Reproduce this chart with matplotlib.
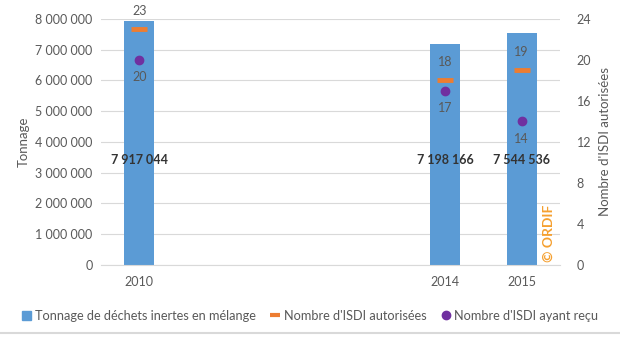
import matplotlib.pyplot as plt
from matplotlib.lines import Line2D
from matplotlib.patches import Patch

plt.rcParams['font.family'] = ['Lato', 'DejaVu Sans']

annees = [2010, 2014, 2015]
tonnage = [7917044, 7198166, 7544536]
isdi_autorisees = [23, 18, 19]
isdi_ayant_recu = [20, 17, 14]

bleu = '#5B9BD5'
orange = '#ED7D31'
violet = '#7030A0'
gris = '#595959'


def fmt(v):
    return f"{v:,}".replace(',', ' ')


fig = plt.figure(figsize=(6.2, 3.5), dpi=100)
ax = fig.add_axes([0.163, 0.243, 0.740, 0.703])
ax2 = ax.twinx()

ax.bar(annees, tonnage, width=0.39, color=bleu, zorder=2)
for x, t in zip(annees, tonnage):
    ax.text(x, 3.4e6, fmt(t), ha='center', va='center', fontsize=9,
            fontweight='bold', color='#333333', zorder=5)

ax.set_xlim(2009.5, 2015.5)
ax.set_ylim(0, 8e6)
ax.set_yticks(range(0, 8000001, 1000000))
ax.set_yticklabels([fmt(v) for v in range(0, 8000001, 1000000)])
ax.set_xticks(annees)
ax.grid(axis='y', color='#D9D9D9', linewidth=0.8, zorder=0)
ax.set_axisbelow(True)
ax.set_ylabel('Tonnage', color=gris, fontsize=9.5)

ax2.plot(annees, isdi_autorisees, linestyle='none', marker='_', markersize=11,
         markeredgewidth=3.5, color=orange, zorder=4)
ax2.plot(annees, isdi_ayant_recu, linestyle='none', marker='o', markersize=6,
         color=violet, zorder=4)
for x, a, r in zip(annees, isdi_autorisees, isdi_ayant_recu):
    ax2.annotate(str(a), (x, a), xytext=(0, 9), textcoords='offset points',
                 ha='center', va='bottom', fontsize=9, color=gris)
    ax2.annotate(str(r), (x, r), xytext=(0, -8), textcoords='offset points',
                 ha='center', va='top', fontsize=9, color=gris)
ax2.set_ylim(0, 24)
ax2.set_yticks(range(0, 25, 4))
ax2.set_ylabel("Nombre d'ISDI autorisées", color=gris, fontsize=9.5, labelpad=6)

for a in (ax, ax2):
    a.tick_params(length=0, colors=gris, labelsize=9)
    for s in a.spines.values():
        s.set_visible(False)
ax.spines['bottom'].set_visible(True)
ax.spines['bottom'].set_color('#D9D9D9')
ax.tick_params(axis='x', pad=8)
ax.tick_params(axis='y', pad=6)
ax2.tick_params(axis='y', pad=12)

ax.text(2015.36, 0.08e6, '© ORDIF', rotation=90, color='#F5A030',
        fontsize=10, fontweight='bold', ha='center', va='bottom', zorder=6)

handles = [
    Patch(color=bleu),
    Line2D([], [], linestyle='none', marker='_', markersize=7, markeredgewidth=3, color=orange),
    Line2D([], [], linestyle='none', marker='o', markersize=6, color=violet),
]
labels = ['Tonnage de déchets inertes en mélange', "Nombre d'ISDI autorisées",
          "Nombre d'ISDI ayant reçu"]
leg = fig.legend(handles, labels, loc='center', bbox_to_anchor=(0.5, 0.098), ncol=3,
                 frameon=False, fontsize=9.2, handlelength=0.7, handletextpad=0.3,
                 columnspacing=1.2)
for t in leg.get_texts():
    t.set_color(gris)

fig.add_artist(Line2D([0.0, 1.0], [0.048, 0.048], color='#D9D9D9', linewidth=1.5,
                      transform=fig.transFigure))

fig.savefig('out.png', dpi=100)
